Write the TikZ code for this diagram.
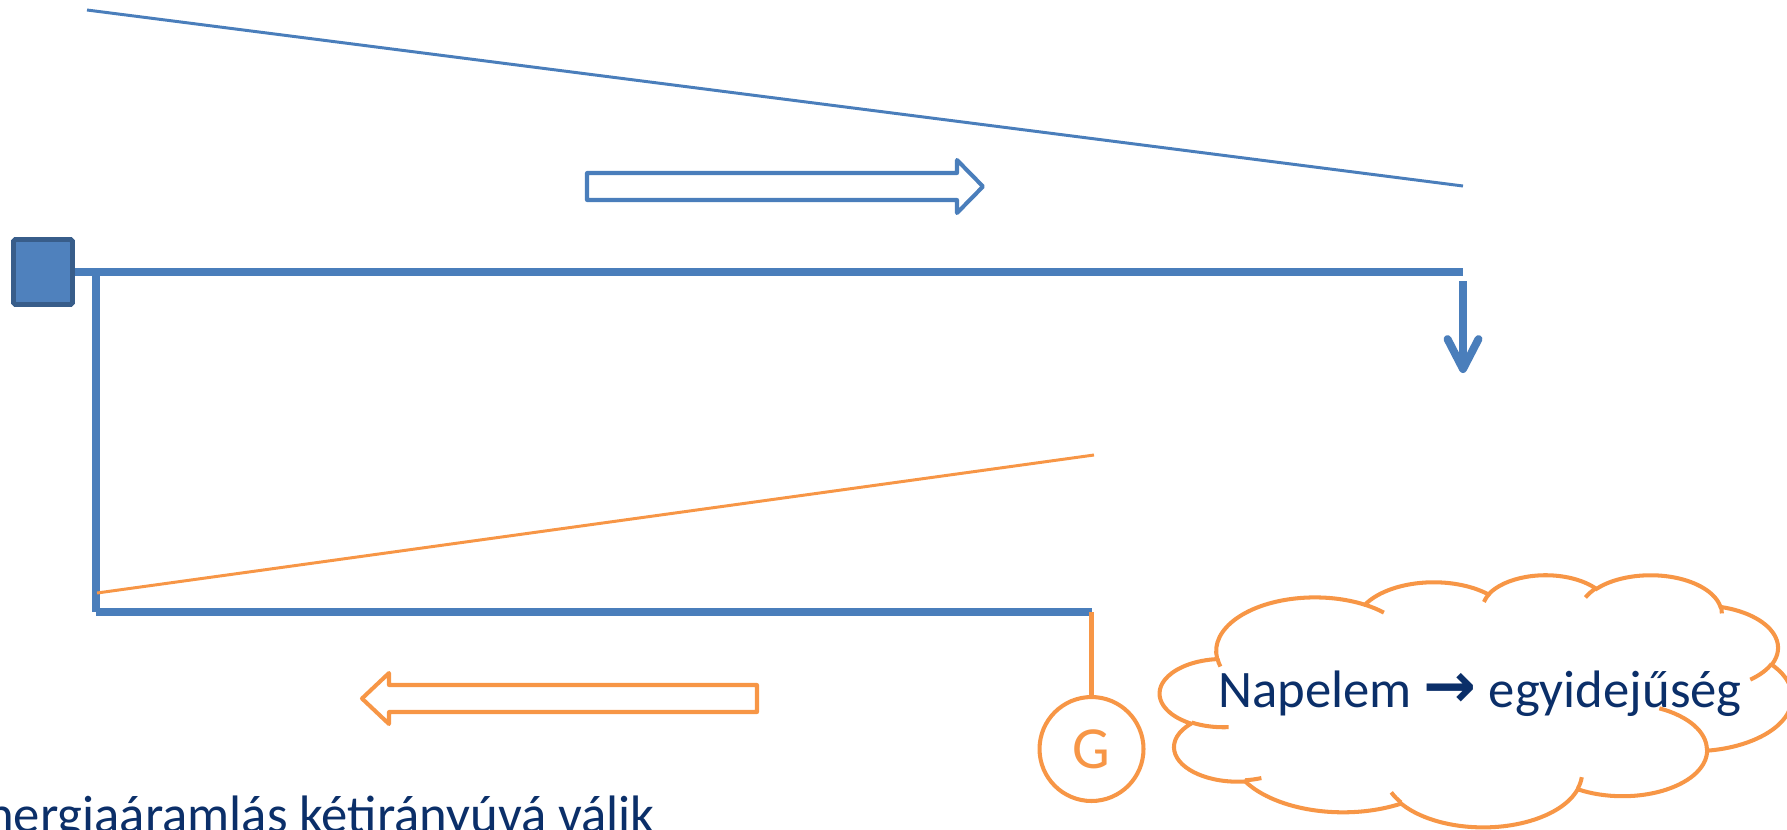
\documentclass[tikz,border=0pt]{standalone}
\usepackage{fontspec}
\setmainfont{Carlito}
\newfontfamily\symfont{DejaVu Sans}
\usetikzlibrary{arrows.meta}

\definecolor{lineblue}{HTML}{4A7EBB}
\definecolor{boxblue}{HTML}{4F81BD}
\definecolor{boxedge}{HTML}{385D8A}
\definecolor{sunorange}{HTML}{F79646}
\definecolor{navy}{HTML}{0B2F69}

\tikzset{
  wire/.style={lineblue, line width=4.5pt},
  thinblue/.style={lineblue, line width=1.7pt},
  thinorange/.style={sunorange, line width=1.7pt},
  hollowarrow/.style={line width=2.3pt, line join=round},
  cloudline/.style={sunorange, line width=2.3pt},
  bigtext/.style={navy, inner sep=0, font=\fontsize{30}{30}\selectfont},
}

\begin{document}
\begin{tikzpicture}[x=0.02cm, y=-0.02cm]
  \clip (0,0) rectangle (1787,829);

  % slanted line at the top
  \coordinate (topleft) at (87,10);
  \coordinate (topright) at (1463,186);
  \draw[thinblue] (topleft) -- (topright);

  % hollow arrow to the right
  \draw[hollowarrow, lineblue] (587,173) -- (957,173) -- (957,160) -- (983,186.5)
    -- (957,213) -- (957,200) -- (587,200) -- cycle;

  % box and wires
  \node[draw=boxedge, fill=boxblue, line width=2.8pt, rounded corners=1pt,
        minimum width=1.18cm, minimum height=1.3cm, inner sep=0] (hub) at (43,272) {};
  \coordinate (wireend) at (1463,272);
  \coordinate (tap) at (96,272);
  \coordinate (corner) at (96,612);
  \coordinate (feed) at (1091.5,612);
  \draw[wire] (hub.east) -- (wireend);
  \draw[wire] (tap) -- (corner);
  \draw[wire] (corner) -- (feed);

  % downward arrow
  \coordinate (dropstart) at (1463,281);
  \coordinate (droptip) at (1463,373);
  \draw[wire, -{Straight Barb[length=0.6cm, width=0.62cm, round]}] (dropstart) -- (droptip);

  % slanted orange line
  \coordinate (lowleft) at (97,593);
  \coordinate (lowright) at (1094,455);
  \draw[thinorange] (lowleft) -- (lowright);

  % hollow arrow to the left
  \draw[hollowarrow, sunorange] (757,685) -- (389,685) -- (389,673) -- (362,698.5)
    -- (389,724) -- (389,712) -- (757,712) -- cycle;

  % generator
  \node[draw=sunorange, line width=2.3pt, circle, minimum size=2.08cm, inner sep=0,
        text=sunorange, font=\fontsize{34}{34}\selectfont] (gen) at (1091.5,749) {G};
  \draw[sunorange, line width=2.6pt] (feed) -- (gen.north);

  % cloud
  \begin{scope}[shift={(1160,574.4)}, x=0.029259cm, y=-0.011667cm]
    \draw[cloudline] (39.00,143.70)
      arc[start angle=-187.75, end angle=-59.64, x radius=67.53, y radius=91.90]
      arc[start angle=-151.98, end angle=-45.50, x radius=53.33, y radius=72.67]
      arc[start angle=-153.46, end angle=-37.35, x radius=43.65, y radius=59.45]
      arc[start angle=-139.76, end angle=-10.19, x radius=48.57, y radius=65.95]
      arc[start angle=-74.80, end angle=23.26, x radius=53.33, y radius=72.73]
      arc[start angle=-37.52, end angle=81.86, x radius=67.75, y radius=92.20]
      arc[start angle=0.46, end angle=121.99, x radius=57.85, y radius=78.67]
      arc[start angle=16.89, end angle=146.15, x radius=67.52, y radius=92.15]
      arc[start angle=59.08, end angle=150.11, x radius=77.20, y radius=105.43]
      arc[start angle=-276.71, end angle=-136.97, x radius=43.60, y radius=59.18]
      arc[start angle=-239.79, end angle=-95.86, x radius=43.45, y radius=59.45]
      -- cycle;
    \draw[cloudline]
      (46.93,261.77) arc[start angle=85.57, end angle=120.21, x radius=43.45, y radius=59.45]
      (69.28,348.99) arc[start angle=68.20, end angle=83.29, x radius=43.60, y radius=59.18]
      (164.78,390.90) arc[start angle=146.15, end angle=158.41, x radius=67.52, y radius=92.15]
      (288.27,347.51) arc[start angle=4.75, end angle=16.89, x radius=67.52, y radius=92.15]
      (341.29,229.54) arc[start angle=-64.01, end angle=0.46, x radius=57.85, y radius=78.67]
      (417.98,153.54) arc[start angle=23.26, end angle=49.72, x radius=53.33, y radius=72.73]
      (383.24,54.26) arc[start angle=-10.19, end angle=0.82, x radius=48.57, y radius=65.95]
      (290.78,39.52) arc[start angle=-156.33, end angle=-139.76, x radius=48.57, y radius=65.95]
      (221.41,47.20) arc[start angle=-167.71, end angle=-153.46, x radius=43.65, y radius=59.45]
      (140.00,51.92) arc[start angle=-59.64, end angle=-45.74, x radius=67.53, y radius=91.90]
      (41.27,157.89) arc[start angle=164.34, end angle=172.85, x radius=67.53, y radius=91.90];
  \end{scope}

  % texts
  \node[bigtext, anchor=base] (solar) at (1480,707)
    {Napelem {\symfont\bfseries\fontsize{36}{36}\selectfont →} egyidejűség};
  \node[bigtext, anchor=base east] (caption) at (655,832)
    {Energiaáramlás kétirányúvá válik};
\end{tikzpicture}
\end{document}
